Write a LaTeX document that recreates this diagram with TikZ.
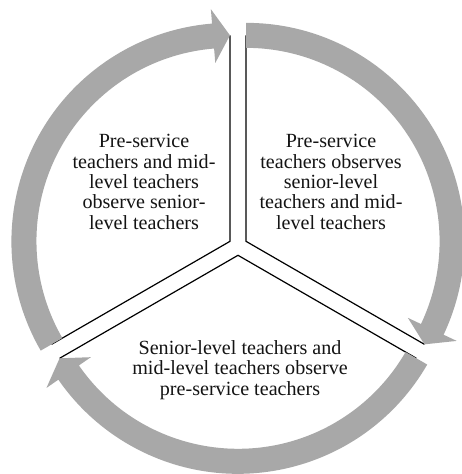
\documentclass[tikz,border=0pt]{standalone}
\usepackage{fontspec}
\setmainfont{Liberation Serif}
\usetikzlibrary{calc}
\begin{document}
\begin{tikzpicture}[x=1pt,y=1pt,
  edge/.style={draw=black, line width=1.2pt},
  ring/.style={fill=ringgray, draw=none},
  label/.style={align=center, text=textgray, inner sep=0pt,
    font=\fontsize{20.1}{20.3}\selectfont}]
\definecolor{ringgray}{RGB}{168,168,168}
\definecolor{textgray}{RGB}{20,20,20}
\useasboundingbox (0,0) rectangle (461,474);
\fill[white] (0,0) rectangle (461,474);
\coordinate (C) at (238,228);
% radii of the ring and the arrow heads
\def\Rin{193.5}\def\Rmid{206}\def\Rout{218.5}
\def\Hin{179}\def\Hout{233}\def\Hang{4.7}
% each slice: its vertex shift, clockwise start angle and end angle
\foreach \name/\dir/\s/\e in {left/150/210/90, right/30/90/-30, bottom/270/330/210}{
  \begin{scope}[shift={($(C)+(\dir:9.3)$)}]
    \coordinate (\name-v) at (0,0);
    \coordinate (\name-a) at (\s:\Rmid);
    \coordinate (\name-b) at (\e:\Rmid);
    \draw[edge] (\name-a) -- (\name-v) -- (\name-b);
    \pgfmathsetmacro{\eh}{\e+\Hang}
    \fill[ring] (\s:\Rout) arc[start angle=\s, end angle=\eh, radius=\Rout]
      -- (\eh:\Hout) -- (\name-b) -- (\eh:\Hin) -- (\eh:\Rin)
      arc[start angle=\eh, end angle=\s, radius=\Rin] -- cycle;
  \end{scope}
}
\node[label] (t1) at (144,292) {Pre-service\\teachers and mid-\\level teachers\\observe senior-\\level teachers};
\node[label] (t2) at (331,292) {Pre-service\\teachers observes\\senior-level\\teachers and mid-\\level teachers};
\node[label] (t3) at (240,104) {Senior-level teachers and\\mid-level teachers observe\\pre-service teachers};
\end{tikzpicture}
\end{document}
